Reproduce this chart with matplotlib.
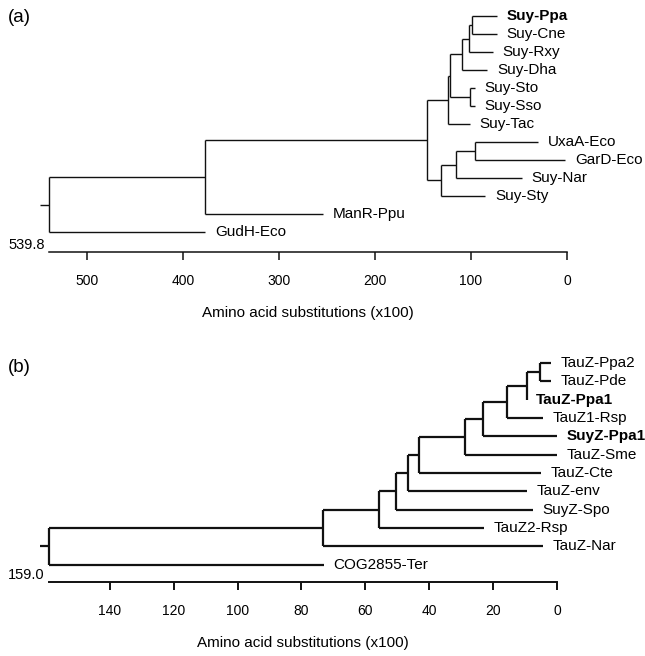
import matplotlib
matplotlib.use("Agg")
import matplotlib.pyplot as plt

plt.rcParams['font.family'] = ['Liberation Sans', 'DejaVu Sans']

# ---- panel (a): Suy / UxaA family tree ----
leaves_a = ['Suy-Ppa', 'Suy-Cne', 'Suy-Rxy', 'Suy-Dha', 'Suy-Sto', 'Suy-Sso',
            'Suy-Tac', 'UxaA-Eco', 'GarD-Eco', 'Suy-Nar', 'Suy-Sty',
            'ManR-Ppu', 'GudH-Eco']
tips_a = [73, 73, 77, 83, 96, 96, 101, 30, 2, 47, 85, 254, 377]
bold_a = ['Suy-Ppa']
# (node id, child 1, child 2, position on axis)
nodes_a = [
    ('a1', 'Suy-Ppa', 'Suy-Cne', 99),
    ('a2', 'a1', 'Suy-Rxy', 102.6),
    ('a3', 'a2', 'Suy-Dha', 109.5),
    ('a4', 'Suy-Sto', 'Suy-Sso', 101.6),
    ('a5', 'a3', 'a4', 122),
    ('a6', 'a5', 'Suy-Tac', 124),
    ('a7', 'UxaA-Eco', 'GarD-Eco', 96),
    ('a8', 'a7', 'Suy-Nar', 116),
    ('a9', 'a8', 'Suy-Sty', 131),
    ('a10', 'a6', 'a9', 145.5),
    ('a11', 'a10', 'ManR-Ppu', 377),
    ('a12', 'a11', 'GudH-Eco', 539.8),
]
ticks_a = [500, 400, 300, 200, 100, 0]

# ---- panel (b): TauZ / SuyZ tree ----
leaves_b = ['TauZ-Ppa2', 'TauZ-Pde', 'TauZ-Ppa1', 'TauZ1-Rsp', 'SuyZ-Ppa1',
            'TauZ-Sme', 'TauZ-Cte', 'TauZ-env', 'SuyZ-Spo', 'TauZ2-Rsp',
            'TauZ-Nar', 'COG2855-Ter']
tips_b = [2, 2, 9.5, 4.5, 0, 0, 5.1, 9.5, 7.6, 23, 4.3, 73]
bold_b = ['TauZ-Ppa1', 'SuyZ-Ppa1']
nodes_b = [
    ('b1', 'TauZ-Ppa2', 'TauZ-Pde', 5.3),
    ('b2', 'b1', 'TauZ-Ppa1', 9.5),
    ('b3', 'b2', 'TauZ1-Rsp', 15.7),
    ('b4', 'b3', 'SuyZ-Ppa1', 23.3),
    ('b5', 'b4', 'TauZ-Sme', 28.8),
    ('b6', 'b5', 'TauZ-Cte', 43.1),
    ('b7', 'b6', 'TauZ-env', 46.5),
    ('b8', 'b7', 'SuyZ-Spo', 50.4),
    ('b9', 'b8', 'TauZ2-Rsp', 55.7),
    ('b10', 'b9', 'TauZ-Nar', 73.1),
    ('b11', 'b10', 'COG2855-Ter', 159.0),
]
ticks_b = [140, 120, 100, 80, 60, 40, 20, 0]

W, H = 645, 656


def draw_tree(ax, leaves, tips, nodes, bold, ticks, lw, spine_lw, ybot):
    pos = {}
    for i, (name, t) in enumerate(zip(leaves, tips)):
        pos[name] = (t, i)
    root = nodes[-1][3]
    for nid, c1, c2, x in nodes:
        x1, y1 = pos[c1]
        x2, y2 = pos[c2]
        ax.plot([x, x], [y1, y2], color='#111111', lw=lw,
                solid_capstyle='butt', clip_on=False)
        ax.plot([x, x1], [y1, y1], color='#111111', lw=lw,
                solid_capstyle='butt', clip_on=False)
        ax.plot([x, x2], [y2, y2], color='#111111', lw=lw,
                solid_capstyle='butt', clip_on=False)
        pos[nid] = (x, (y1 + y2) / 2)
    # short stub left of the root
    ry = pos[nodes[-1][0]][1]
    ax.plot([root, root * 1.017], [ry, ry], color='#111111', lw=lw,
            solid_capstyle='butt', clip_on=False)

    for i, (name, t) in enumerate(zip(leaves, tips)):
        ax.annotate(name, xy=(t, i), xytext=(7, 0), textcoords='offset points',
                    ha='left', va='center', fontsize=11,
                    fontweight='bold' if name in bold else 'normal')

    ax.set_xlim(root, 0)
    ax.set_ylim(ybot, -0.5)
    for s in ['top', 'left', 'right']:
        ax.spines[s].set_visible(False)
    ax.spines['bottom'].set_linewidth(spine_lw)
    ax.spines['bottom'].set_color('#111111')
    ax.set_yticks([])
    ax.set_xticks(ticks)
    ax.tick_params(axis='x', direction='out', length=5.8, width=spine_lw,
                   pad=10, labelsize=10, color='#111111')
    ax.set_xlabel('Amino acid substitutions (x100)', fontsize=11, labelpad=13)
    ax.annotate('%.1f' % root, xy=(root, 0), xycoords=('data', 'axes fraction'),
                xytext=(-3, 5), textcoords='offset points', ha='right',
                va='center', fontsize=10.5)


fig = plt.figure(figsize=(W / 100, H / 100), dpi=100)

# panel (a): axis line at y=252 px, leaf rows from 16 px, 18 px apart
ax_a = fig.add_axes([49 / W, (H - 252) / H, (567 - 49) / W, (252 - 7) / H])
draw_tree(ax_a, leaves_a, tips_a, nodes_a, bold_a, ticks_a, 1.0, 1.1,
          (252 - 16) / 18)

# panel (b): axis line at y=582 px, leaf rows from 363 px, 18.3 px apart
ax_b = fig.add_axes([49 / W, (H - 582) / H, (557 - 49) / W, (582 - 354) / H])
draw_tree(ax_b, leaves_b, tips_b, nodes_b, bold_b, ticks_b, 1.6, 1.4,
          (582 - 363.3) / 18.3)

fig.text(8 / W, 1 - 17 / H, '(a)', fontsize=13.5, va='center', ha='left')
fig.text(8 / W, 1 - 367 / H, '(b)', fontsize=13.5, va='center', ha='left')

fig.savefig('out.png', dpi=100)
